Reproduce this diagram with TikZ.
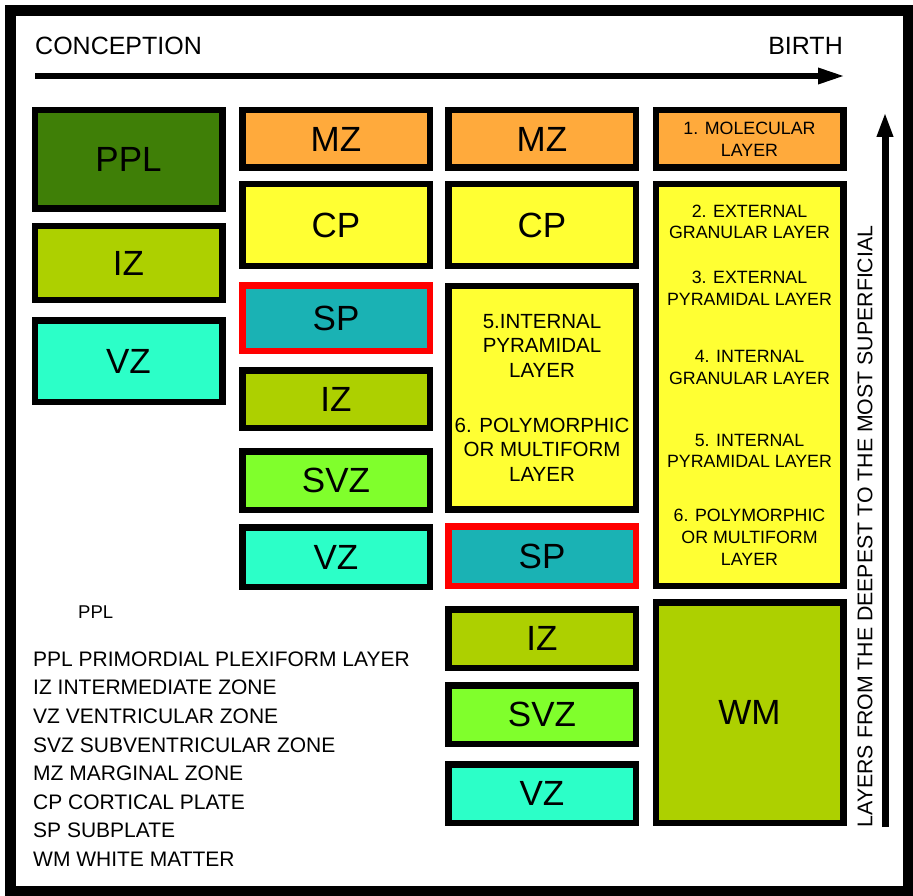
\documentclass[tikz,border=0pt]{standalone}
\usepackage{fontspec}
\setmainfont{Liberation Sans}
\usetikzlibrary{arrows.meta,positioning}

\definecolor{pplgreen}{HTML}{3F7F07}
\definecolor{mzorange}{HTML}{FFAA3C}
\definecolor{cpyellow}{HTML}{FFFF33}
\definecolor{izolive}{HTML}{ADD000}
\definecolor{vzaqua}{HTML}{2CFFC8}
\definecolor{spteal}{HTML}{1AB2B4}
\definecolor{svzlime}{HTML}{80FF2C}

\begin{document}
\begin{tikzpicture}[x=1pt,y=-1pt,
        box/.style = {
            draw,
            line width=6.5pt,
            minimum width=187.5pt,
            inner sep=0pt,
            align=center,
            font=\fontsize{35}{40}\selectfont
        },
        spbox/.style = {box, draw=red, fill=spteal},
        layer/.style = {box, fill=cpyellow, font=\fontsize{17.8}{21.7}\selectfont},
        legend/.style = {anchor=base west, inner sep=0pt, font=\fontsize{21}{25}\selectfont}]

        \useasboundingbox (0,0) rectangle (913,896);
        \draw[line width=11pt] (10.5,10.5) rectangle (908,891.5);

        % time axis
        \node[anchor=base west, inner sep=0pt, font=\fontsize{25}{30}\selectfont] (conc) at (35,55) {CONCEPTION};
        \node[anchor=base east, inner sep=0pt, font=\fontsize{25}{30}\selectfont] (birth) at (843,55) {BIRTH};
        \coordinate (tstart) at (35,76);
        \coordinate (tend) at (845,76);
        \draw[line width=6pt, -{Triangle[length=27pt,width=15pt]}] (tstart) -- (tend);

        % first stage
        \node[box, fill=pplgreen, minimum height=98.5pt] (ppl) at (128.5,159.5) {PPL};
        \node[box, fill=izolive, minimum height=73.5pt] (iz1) at (128.5,263) {IZ};
        \node[box, fill=vzaqua, minimum height=81.5pt] (vz1) at (128.5,361) {VZ};

        % second stage
        \node[box, fill=mzorange, minimum height=57.5pt] (mz2) at (336,139) {MZ};
        \node[box, fill=cpyellow, minimum height=81.5pt] (cp2) at (336,225) {CP};
        \node[spbox, minimum height=65.5pt] (sp2) at (336,318) {SP};
        \node[box, fill=izolive, minimum height=57.5pt] (iz2) at (336,399) {IZ};
        \node[box, fill=svzlime, minimum height=58.5pt] (svz2) at (336,480.5) {SVZ};
        \node[box, fill=vzaqua, minimum height=59.5pt] (vz2) at (336,557) {VZ};

        % third stage
        \node[box, fill=mzorange, minimum height=57.5pt] (mz3) at (542,139) {MZ};
        \node[box, fill=cpyellow, minimum height=81.5pt] (cp3) at (542,225) {CP};
        \node[layer, minimum height=223.5pt, font=\fontsize{20.5}{24.5}\selectfont] (deep3) at (542,397.5)
            {5.INTERNAL\\PYRAMIDAL\\LAYER\\[30.5pt]6. POLYMORPHIC\\OR MULTIFORM\\LAYER};
        \node[spbox, minimum height=59.5pt] (sp3) at (542,556) {SP};
        \node[box, fill=izolive, minimum height=58.5pt] (iz3) at (542,638.5) {IZ};
        \node[box, fill=svzlime, minimum height=58.5pt] (svz3) at (542,714.5) {SVZ};
        \node[box, fill=vzaqua, minimum height=58.5pt] (vz3) at (542,793.5) {VZ};

        % at birth
        \node[layer, fill=mzorange, minimum height=57.5pt] (mol) at (749.5,139) {1. MOLECULAR\\LAYER};
        \node[layer, minimum height=401.5pt] (cortex) at (749.5,385)
            {2. EXTERNAL\\GRANULAR LAYER\\[23.3pt]3. EXTERNAL\\PYRAMIDAL LAYER\\[35.3pt]4. INTERNAL\\GRANULAR LAYER\\[40.3pt]5. INTERNAL\\PYRAMIDAL LAYER\\[32.3pt]6. POLYMORPHIC\\OR MULTIFORM\\LAYER};
        \node[box, fill=izolive, minimum height=220.5pt] (wm) at (749.5,712.5) {WM};

        % depth axis
        \coordinate (dstart) at (885,827);
        \coordinate (dend) at (885,112);
        \draw[line width=7pt, -{Triangle[length=25pt,width=15pt]}] (dstart) -- (dend);
        \node[rotate=90, inner sep=0pt, font=\fontsize{21.3}{25}\selectfont] (depth) at (865,526.5)
            {LAYERS FROM THE DEEPEST TO THE MOST SUPERFICIAL};

        % legend
        \node[anchor=base west, inner sep=0pt, font=\fontsize{18.5}{22}\selectfont] (pplnote) at (78,618) {PPL};
        \node[legend] (leg1) at (33,666) {PPL PRIMORDIAL PLEXIFORM LAYER};
        \node[legend] (leg2) at (33,694.5) {IZ INTERMEDIATE ZONE};
        \node[legend] (leg3) at (33,723) {VZ VENTRICULAR ZONE};
        \node[legend] (leg4) at (33,752) {SVZ SUBVENTRICULAR ZONE};
        \node[legend] (leg5) at (33,780.5) {MZ MARGINAL ZONE};
        \node[legend] (leg6) at (33,809) {CP CORTICAL PLATE};
        \node[legend] (leg7) at (33,837.5) {SP SUBPLATE};
        \node[legend] (leg8) at (33,866) {WM WHITE MATTER};
    \end{tikzpicture}
\end{document}
